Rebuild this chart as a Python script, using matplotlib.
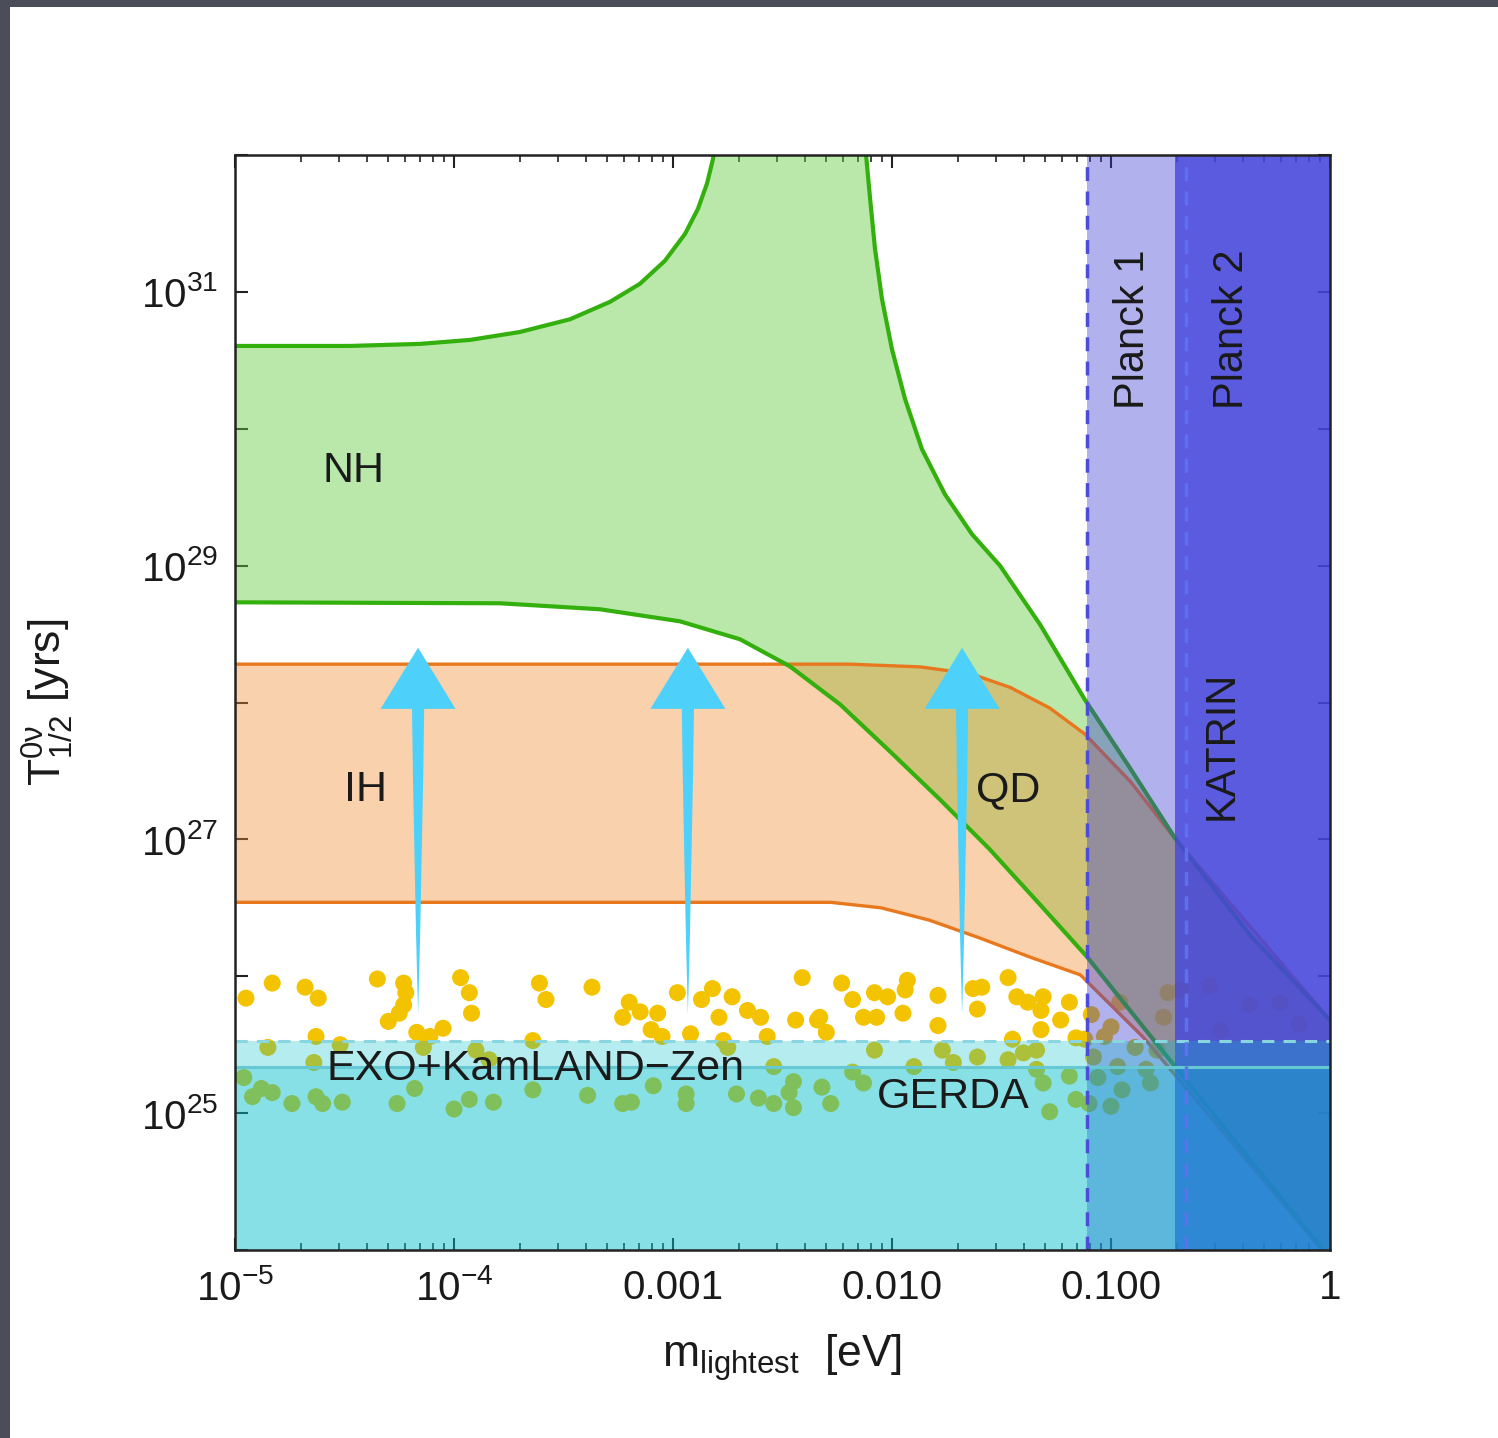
import numpy as np
import matplotlib
matplotlib.use('Agg')
import matplotlib.pyplot as plt
from matplotlib.patches import Rectangle
from matplotlib.ticker import FixedLocator, FixedFormatter, LogLocator, NullFormatter

plt.rcParams['font.family'] = ['Liberation Sans', 'DejaVu Sans']
plt.rcParams['mathtext.fontset'] = 'custom'
plt.rcParams['mathtext.rm'] = 'Liberation Sans'
plt.rcParams['mathtext.it'] = 'Liberation Sans:italic'
plt.rcParams['mathtext.bf'] = 'Liberation Sans:bold'

# all curves as log10(m_lightest / eV), log10(T / yr)
nh_up_left_lm = [-5.0, -4.475, -4.155, -3.927, -3.699, -3.470, -3.288, -3.151, -3.037, -2.945, -2.886, -2.845, -2.817, -2.795]
nh_up_left_lt = [30.605, 30.605, 30.62, 30.649, 30.707, 30.80, 30.927, 31.059, 31.227, 31.424, 31.607, 31.79, 31.973, 32.27]
nh_up_right_lm = [-2.137, -2.119, -2.100, -2.078, -2.046, -2.000, -1.941, -1.863, -1.758, -1.635, -1.507, -1.324, -1.119, -0.913, -0.708, -0.365, 0.0]
nh_up_right_lt = [32.27, 32.01, 31.68, 31.32, 30.95, 30.58, 30.22, 29.85, 29.52, 29.23, 29.00, 28.57, 28.02, 27.52, 27.01, 26.30, 25.68]
nh_low_lm = [-5.0, -3.79, -3.333, -2.968, -2.694, -2.466, -2.237, -2.009, -1.781, -1.553, -1.324, -1.110, -0.813, 0.0]
nh_low_lt = [28.732, 28.725, 28.681, 28.593, 28.462, 28.264, 27.986, 27.642, 27.291, 26.926, 26.523, 26.143, 25.55, 23.94]

ih_up_lm = [-5.0, -2.19, -1.87, -1.64, -1.46, -1.28, -1.12, -0.91, -0.71, 0.0]
ih_up_lt = [28.28, 28.28, 28.26, 28.21, 28.11, 27.96, 27.77, 27.42, 27.01, 25.68]
ih_low_lm = [-5.0, -2.28, -2.05, -1.83, -1.60, -1.37, -1.14, -0.85, 0.0]
ih_low_lt = [26.54, 26.54, 26.50, 26.41, 26.28, 26.14, 26.01, 25.55, 23.93]

# experimental limits
exo_klz_lt = 25.53
gerda_lt = 25.34
planck1_m = 0.078
planck2_m = 0.196
katrin_m = 0.22

# scattered dots
dots_lm = [-4.95, -4.83, -4.68, -4.62, -4.35, -4.23, -4.22, -4.23, -4.25, -4.30, -4.17, -4.11, -4.05,
           -3.97, -3.93, -3.92, -4.63, -4.85, -4.14, -4.52, -4.64, -4.96, -4.88, -4.83, -4.92, -4.74,
           -4.63, -4.60, -4.51, -4.26, -4.18, -4.00, -3.93, -3.90, -3.84, -3.82,
           -3.61, -3.58, -3.37, -3.20, -3.15, -3.23, -3.07, -3.10, -3.05, -2.98, -2.92, -2.87, -2.82,
           -2.73, -2.79, -2.66, -2.60, -2.57, -2.41, -2.44, -2.34, -3.64, -2.77, -2.75, -2.54, -3.64,
           -3.39, -3.23, -3.19, -3.09, -2.94, -2.94, -2.71, -2.61, -2.54, -2.45, -2.47, -2.45,
           -2.23, -2.18, -2.13, -2.07, -2.08, -2.02, -1.95, -1.93, -1.94, -2.33, -2.30, -1.79, -1.79,
           -1.63, -1.59, -1.61, -1.47, -1.43, -1.38, -1.31, -1.32, -1.19, -1.23, -1.32, -1.16,
           -2.08, -1.77, -1.72, -1.61, -1.47, -1.45, -1.40, -1.34, -1.34, -1.90, -2.18, -2.13, -2.32,
           -2.28, -1.31, -1.19, -1.16, -1.28,
           -0.96, -1.09, -1.00, -1.03, -0.74, -0.76, -1.12, -0.89, -0.79, -1.08, -0.97, -0.84, -1.06,
           -0.95, -0.82, -1.00, -1.10, -0.55, -0.37, -0.23, -0.14, -0.50, -0.68]
dots_lt = [25.84, 25.95, 25.92, 25.84, 25.98, 25.95, 25.88, 25.79, 25.73, 25.67, 25.59, 25.56, 25.62,
           25.99, 25.88, 25.73, 25.56, 25.48, 25.48, 25.50, 25.37, 25.26, 25.18, 25.15, 25.12, 25.07,
           25.12, 25.07, 25.08, 25.07, 25.18, 25.03, 25.10, 25.46, 25.39, 25.08,
           25.95, 25.83, 25.92, 25.81, 25.74, 25.70, 25.73, 25.61, 25.56, 25.88, 25.58, 25.83, 25.91,
           25.85, 25.70, 25.75, 25.70, 25.56, 25.99, 25.68, 25.68, 25.53, 25.53, 25.48, 25.34, 25.17,
           25.13, 25.07, 25.08, 25.20, 25.14, 25.07, 25.14, 25.11, 25.07, 25.23, 25.15, 25.04,
           25.95, 25.83, 25.70, 25.70, 25.88, 25.85, 25.73, 25.97, 25.90, 25.70, 25.59, 25.86, 25.64,
           25.91, 25.92, 25.76, 25.99, 25.85, 25.81, 25.85, 25.75, 25.81, 25.68, 25.61, 25.55,
           25.46, 25.46, 25.37, 25.41, 25.39, 25.54, 25.44, 25.46, 25.32, 25.34, 25.30, 25.22, 25.19,
           25.07, 25.22, 25.27, 25.10, 25.01,
           25.81, 25.72, 25.63, 25.56, 25.88, 25.70, 25.54, 25.48, 25.46, 25.41, 25.34, 25.32, 25.26,
           25.17, 25.22, 25.05, 25.07, 25.93, 25.79, 25.81, 25.65, 25.60, 25.90]

# arrows (log10 m, from, head base, tip)
arrow_lm = [-4.164, -2.932, -1.680]
arrow_lt_from = 25.72
arrow_lt_head = 28.05
arrow_lt_to = 28.40

x_ticks = [1e-5, 1e-4, 1e-3, 1e-2, 1e-1, 1.0]
x_ticklabels = ['$10^{-5}$', '$10^{-4}$', '0.001', '0.010', '0.100', '1']
y_ticks = [10.0**k for k in range(24, 33)]
y_ticklabels = ['$10^{%d}$' % k if k % 2 == 1 else '' for k in range(24, 33)]


def p(a):
	return 10.0**np.asarray(a)


def main():
	fig = plt.figure(figsize=(14.98, 14.38), dpi=100, facecolor='#4b4e59')
	fig.patches.append(Rectangle((10/1498, 0), 1, 1 - 7/1438, transform=fig.transFigure,
								 facecolor='white', edgecolor='none', zorder=-5))
	ax = fig.add_axes([235/1498, 1 - 1250/1438, 1095/1498, 1095/1438])
	ax.set_zorder(1)
	ax.set_xscale('log')
	ax.set_yscale('log')
	ax.set_xlim(1e-5, 1.0)
	ax.set_ylim(1e24, 1e32)

	# dots (below everything)
	ax.scatter(p(dots_lm), p(dots_lt), s=150, color='#f3c300', edgecolors='none', zorder=1)

	# NH band
	nh_x = np.concatenate([p(nh_up_left_lm), p(nh_up_right_lm), p(nh_low_lm)[::-1]])
	nh_y = np.concatenate([p(nh_up_left_lt), p(nh_up_right_lt), p(nh_low_lt)[::-1]])
	ax.fill(nh_x, nh_y, color='#66cc44', alpha=0.45, lw=0, zorder=2)
	# IH band
	ih_x = np.concatenate([p(ih_up_lm), p(ih_low_lm)[::-1]])
	ih_y = np.concatenate([p(ih_up_lt), p(ih_low_lt)[::-1]])
	ax.fill(ih_x, ih_y, color='#f08c30', alpha=0.40, lw=0, zorder=3)

	for lm, lt in [(ih_up_lm, ih_up_lt), (ih_low_lm, ih_low_lt)]:
		ax.plot(p(lm), p(lt), color='#e8781e', lw=2.4, zorder=4, solid_joinstyle='round')
	for lm, lt in [(nh_up_left_lm, nh_up_left_lt), (nh_up_right_lm, nh_up_right_lt), (nh_low_lm, nh_low_lt)]:
		ax.plot(p(lm), p(lt), color='#34b00e', lw=3.0, zorder=5, solid_joinstyle='round')

	# Planck / KATRIN
	ax.axvspan(planck1_m, 1.0, color='#3c3cd2', alpha=0.40, lw=0, zorder=6)
	ax.axvspan(planck2_m, 1.0, color='#4646dc', alpha=0.80, lw=0, zorder=7)

	# EXO+KamLAND-Zen and GERDA
	ax.axhspan(1e24, 10**exo_klz_lt, color='#00bec8', alpha=0.29, lw=0, zorder=8)
	ax.axhspan(1e24, 10**gerda_lt, color='#00bec8', alpha=0.25, lw=0, zorder=9)
	ax.axhline(10**exo_klz_lt, color='#8ad6e0', lw=2.2, ls=(0, (4, 3)), zorder=10)
	ax.axhline(10**gerda_lt, color='#66c8d2', lw=2.2, zorder=10)

	ax.axvline(planck1_m, color='#4c4cd8', lw=2.5, ls=(0, (4, 3)), zorder=11)
	ax.axvline(katrin_m, color='#5d70f0', lw=2.5, ls=(0, (4, 3)), zorder=11)

	# labels
	fs = 31
	tc = '#1a1a1a'
	ax.text(10**-4.461, 10**29.69, 'NH', fontsize=fs, color=tc, ha='center', va='center', zorder=12)
	ax.text(10**-4.406, 10**27.36, 'IH', fontsize=fs, color=tc, ha='center', va='center', zorder=12)
	ax.text(10**-1.47, 10**27.36, 'QD', fontsize=fs, color=tc, ha='center', va='center', zorder=12)
	ax.text(10**-3.63, 10**25.32, 'EXO+KamLAND\u2212Zen', fontsize=fs, color=tc, ha='center', va='center', zorder=12)
	ax.text(10**-1.721, 10**25.12, 'GERDA', fontsize=fs, color=tc, ha='center', va='center', zorder=12)
	ax.text(10**-0.900, 10**30.73, 'Planck 1', fontsize=30, color=tc, rotation=90, ha='center', va='center', zorder=12)
	ax.text(10**-0.447, 10**30.73, 'Planck 2', fontsize=30, color=tc, rotation=90, ha='center', va='center', zorder=12)
	ax.text(10**-0.493, 10**27.69, 'KATRIN', fontsize=30, color=tc, rotation=90, ha='center', va='center', zorder=12)

	# arrows: tapered shaft + triangular head
	for lm in arrow_lm:
		ax.annotate('', xy=(10**lm, 10**arrow_lt_from), xytext=(10**lm, 10**arrow_lt_head),
					arrowprops=dict(arrowstyle='wedge,tail_width=0.9,shrink_factor=0.6',
									color='#4dd0fa', mutation_scale=10, shrinkA=0, shrinkB=0, lw=0),
					zorder=13)
		ax.annotate('', xy=(10**lm, 10**arrow_lt_to), xytext=(10**lm, 10**(arrow_lt_head - 0.02)),
					arrowprops=dict(arrowstyle='simple,head_length=4.4,head_width=5.4,tail_width=0.9',
									color='#4dd0fa', mutation_scale=10, shrinkA=0, shrinkB=0, lw=0),
					zorder=13)

	# axes, ticks
	ax.xaxis.set_major_locator(FixedLocator(x_ticks))
	ax.xaxis.set_major_formatter(FixedFormatter(x_ticklabels))
	ax.xaxis.set_minor_locator(LogLocator(base=10, subs=np.arange(2, 10)))
	ax.xaxis.set_minor_formatter(NullFormatter())
	ax.yaxis.set_major_locator(FixedLocator(y_ticks))
	ax.yaxis.set_major_formatter(FixedFormatter(y_ticklabels))
	ax.yaxis.set_minor_locator(FixedLocator([]))
	ax.tick_params(which='both', direction='in', top=True, right=True, colors='#222222', labelcolor=tc)
	ax.tick_params(which='major', length=9, width=1.5, labelsize=29)
	ax.tick_params(axis='x', which='major', pad=14)
	ax.tick_params(axis='y', which='major', pad=12)
	ax.tick_params(which='minor', length=5, width=1.2)
	for s in ax.spines.values():
		s.set_linewidth(1.8)
		s.set_color('#222222')
		s.set_zorder(20)

	ax.set_xlabel(r'$\mathregular{m_{lightest}}$  [eV]', fontsize=32, color=tc)
	ax.xaxis.set_label_coords(0.5, -0.075)
	ax.set_ylabel(r'$\mathregular{T^{0\nu}_{1/2}}$ [yrs]', fontsize=32, color=tc)
	ax.yaxis.set_label_coords(-0.145, 0.5)

	fig.savefig('out.png', dpi=100, facecolor=fig.get_facecolor())


if __name__ == "__main__":
	main()
